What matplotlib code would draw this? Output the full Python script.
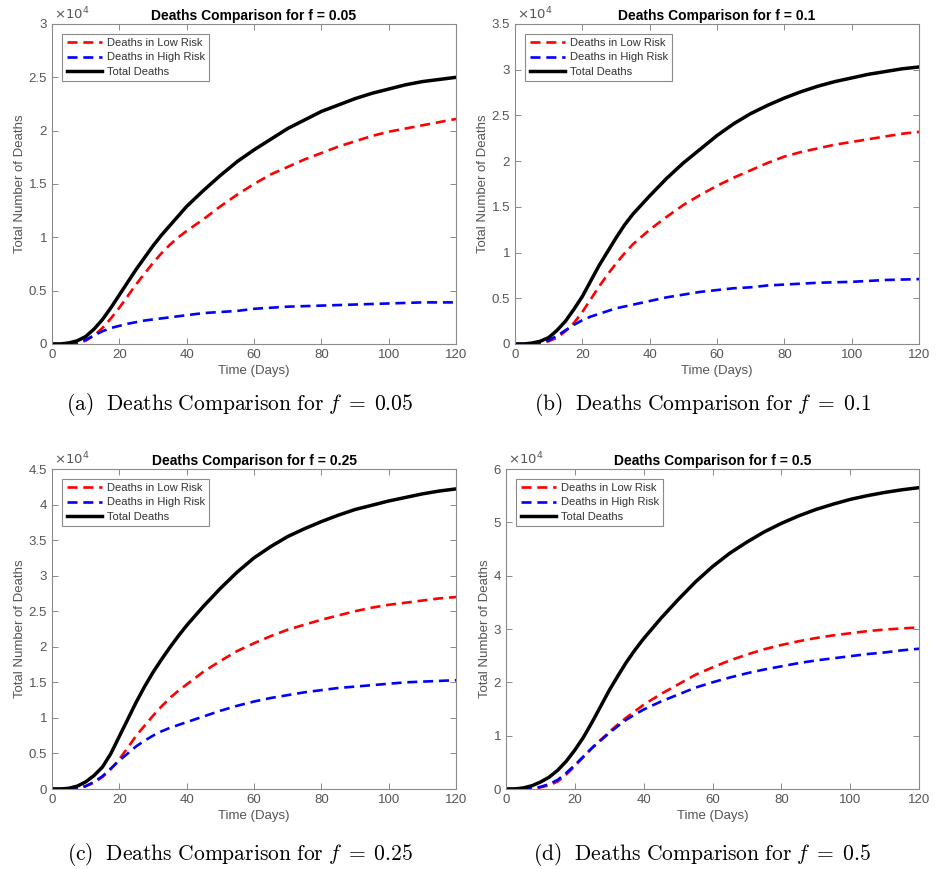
import numpy as np
import matplotlib
matplotlib.use('Agg')
import matplotlib.pyplot as plt

plt.rcParams['font.family'] = ['Liberation Sans', 'DejaVu Sans']
plt.rcParams['mathtext.fontset'] = 'cm'

# time axis (days): finer steps during the early rise, then every 5 days
days = [0, 2.5, 5, 7.5, 10, 12.5, 15, 17.5, 20, 22.5, 25, 27.5, 30, 32.5, 35, 37.5, 40,
        45, 50, 55, 60, 65, 70, 75, 80, 85, 90, 95, 100, 105, 110, 115, 120]

# deaths, in units of 10^4
low_005 = [0, 0, 0, 0.01, 0.03, 0.08, 0.15, 0.24, 0.34, 0.45, 0.56, 0.66, 0.76, 0.85, 0.93, 1.00, 1.06,
           1.17, 1.29, 1.40, 1.50, 1.59, 1.66, 1.73, 1.79, 1.85, 1.90, 1.95, 1.99, 2.02, 2.05, 2.08, 2.11]
high_005 = [0, 0, 0, 0.01, 0.04, 0.08, 0.12, 0.15, 0.17, 0.19, 0.205, 0.22, 0.23, 0.24, 0.25, 0.26, 0.27,
            0.29, 0.30, 0.31, 0.33, 0.34, 0.35, 0.355, 0.36, 0.365, 0.37, 0.375, 0.38, 0.385, 0.39, 0.39, 0.39]
total_005 = [0, 0, 0.01, 0.03, 0.07, 0.14, 0.23, 0.34, 0.46, 0.58, 0.70, 0.81, 0.92, 1.02, 1.11, 1.20, 1.29,
             1.44, 1.58, 1.71, 1.82, 1.92, 2.02, 2.10, 2.18, 2.24, 2.30, 2.35, 2.39, 2.43, 2.46, 2.48, 2.50]

low_01 = [0, 0, 0, 0.01, 0.03, 0.07, 0.14, 0.23, 0.35, 0.49, 0.63, 0.76, 0.88, 0.99, 1.09, 1.17, 1.25,
          1.39, 1.52, 1.63, 1.73, 1.82, 1.90, 1.98, 2.05, 2.10, 2.14, 2.18, 2.21, 2.24, 2.27, 2.30, 2.32]
high_01 = [0, 0, 0, 0.01, 0.04, 0.09, 0.15, 0.21, 0.26, 0.30, 0.33, 0.36, 0.39, 0.41, 0.43, 0.45, 0.47,
           0.51, 0.54, 0.57, 0.59, 0.61, 0.62, 0.64, 0.65, 0.66, 0.67, 0.675, 0.68, 0.69, 0.70, 0.705, 0.71]
total_01 = [0, 0, 0.01, 0.03, 0.07, 0.15, 0.25, 0.38, 0.52, 0.69, 0.86, 1.01, 1.16, 1.30, 1.42, 1.52, 1.62,
            1.81, 1.98, 2.13, 2.28, 2.41, 2.52, 2.61, 2.69, 2.76, 2.82, 2.87, 2.91, 2.95, 2.98, 3.01, 3.03]

low_025 = [0, 0, 0, 0.01, 0.04, 0.09, 0.17, 0.28, 0.42, 0.58, 0.75, 0.89, 1.03, 1.16, 1.28, 1.38, 1.47,
           1.65, 1.80, 1.94, 2.05, 2.15, 2.24, 2.31, 2.38, 2.44, 2.50, 2.55, 2.59, 2.62, 2.65, 2.68, 2.70]
high_025 = [0, 0, 0, 0.01, 0.04, 0.10, 0.18, 0.29, 0.40, 0.50, 0.60, 0.68, 0.75, 0.81, 0.86, 0.90, 0.94,
            1.02, 1.10, 1.17, 1.23, 1.28, 1.32, 1.36, 1.39, 1.42, 1.44, 1.46, 1.48, 1.50, 1.51, 1.52, 1.53]
total_025 = [0, 0, 0.01, 0.04, 0.10, 0.19, 0.31, 0.50, 0.74, 0.98, 1.22, 1.44, 1.64, 1.82, 1.99, 2.15, 2.30,
             2.57, 2.82, 3.05, 3.25, 3.41, 3.55, 3.66, 3.76, 3.85, 3.93, 3.99, 4.05, 4.10, 4.15, 4.19, 4.22]

low_05 = [0, 0, 0, 0.01, 0.03, 0.07, 0.14, 0.27, 0.43, 0.60, 0.77, 0.92, 1.07, 1.21, 1.34, 1.46, 1.58,
          1.78, 1.96, 2.14, 2.28, 2.41, 2.52, 2.62, 2.70, 2.77, 2.83, 2.88, 2.92, 2.96, 2.99, 3.01, 3.03]
high_05 = [0, 0, 0, 0.01, 0.04, 0.09, 0.17, 0.30, 0.45, 0.61, 0.77, 0.91, 1.05, 1.18, 1.30, 1.40, 1.49,
           1.64, 1.77, 1.90, 2.00, 2.09, 2.17, 2.24, 2.30, 2.36, 2.41, 2.45, 2.49, 2.53, 2.56, 2.60, 2.63]
total_05 = [0, 0, 0.02, 0.06, 0.13, 0.22, 0.35, 0.52, 0.73, 0.97, 1.25, 1.55, 1.85, 2.12, 2.38, 2.61, 2.82,
            3.20, 3.55, 3.88, 4.17, 4.42, 4.63, 4.82, 4.98, 5.12, 5.24, 5.34, 5.43, 5.50, 5.56, 5.61, 5.65]

f_values = ['0.05', '0.1', '0.25', '0.5']
panel_tags = ['a', 'b', 'c', 'd']
y_tops = [3, 3.5, 4.5, 6]
y_steps = [0.5, 0.5, 0.5, 1]

W, H = 936, 869
fig = plt.figure(figsize=(W / 100, H / 100), dpi=100)

# axes boxes in pixels: left, right, top, bottom
boxes = [(52, 456, 24, 344), (515, 919, 24, 344), (52, 456, 469, 789), (506, 919, 469, 789)]
series = [(low_005, high_005, total_005), (low_01, high_01, total_01),
          (low_025, high_025, total_025), (low_05, high_05, total_05)]

gray = '#555555'
for i in range(4):
    l, r, t, b = boxes[i]
    ax = fig.add_axes([l / W, 1 - b / H, (r - l) / W, (b - t) / H])
    low, high, total = series[i]
    ax.plot(days, low, color='red', lw=1.9, dashes=(3.8, 2.2), label='Deaths in Low Risk')
    ax.plot(days, high, color='blue', lw=1.9, dashes=(3.8, 2.2), label='Deaths in High Risk')
    ax.plot(days, total, color='black', lw=2.5, label='Total Deaths')

    ax.set_xlim(0, 120)
    ax.set_ylim(0, y_tops[i])
    ax.set_xticks(np.arange(0, 121, 20))
    yt = np.arange(0, y_tops[i] + 1e-9, y_steps[i])
    ax.set_yticks(yt)
    ax.set_yticklabels(['%g' % v for v in yt])
    ax.tick_params(direction='in', top=True, right=True, length=4, width=0.6,
                   colors='#777777', labelcolor=gray, labelsize=9.5)
    for s in ax.spines.values():
        s.set_color('#8a8a8a')
        s.set_linewidth(0.8)

    ax.set_xlabel('Time (Days)', color=gray, fontsize=9.5, labelpad=3)
    ax.set_ylabel('Total Number of Deaths', color=gray, fontsize=9.5, labelpad=2)
    ax.set_title('Deaths Comparison for f = ' + f_values[i], fontsize=10,
                 fontweight='bold', pad=3)
    ax.text(0.005, 1.005, r'$\times10^{4}$', transform=ax.transAxes, color=gray,
            fontsize=9.5, ha='left', va='bottom', family='DejaVu Sans',
            math_fontfamily='dejavusans')

    leg = ax.legend(loc='upper left', fontsize=8, handlelength=3.2, handletextpad=0.4,
                    labelspacing=0.4, borderpad=0.4, fancybox=False, framealpha=1,
                    bbox_to_anchor=(0.025, 0.97), borderaxespad=0)
    leg.get_frame().set_edgecolor('#8a8a8a')
    leg.get_frame().set_linewidth(0.8)
    for txt in leg.get_texts():
        txt.set_color('#333333')

    # caption under each panel
    cap_y = 405 if i < 2 else 855
    cap_x = 240 if i % 2 == 0 else 702
    fig.text(cap_x / W, 1 - cap_y / H,
             r'$\mathrm{(' + panel_tags[i] + r')\ \ Deaths\ Comparison\ for\ }f\;=\;'
             + f_values[i] + '$',
             fontsize=15.5, ha='center', va='center')

fig.savefig('out.png', dpi=100)
